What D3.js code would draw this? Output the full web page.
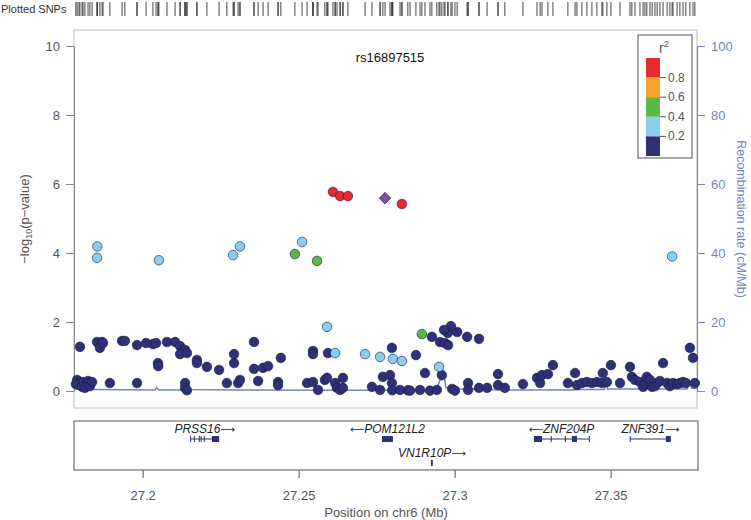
<!DOCTYPE html>
<html><head><meta charset="utf-8">
<script src="https://cdn.jsdelivr.net/npm/d3@7"></script>
<style>body{margin:0;background:#fff}svg text{font-family:"Liberation Sans",Arial,sans-serif}</style>
</head><body><svg id="c" width="751" height="520"></svg>
<script>
// ---------- DATA ----------
const indexSNP = "rs16897515";
// navy (r2 < 0.2)
const navyPos = [27.1790,27.1796,27.1786,27.1809,27.1825,27.1806,27.1815,27.1831,27.1838,27.1799,27.1854,27.1870,27.1863,27.1873,27.1895,27.1934,27.1943,27.1982,27.1982,27.2011,27.2033,27.2043,27.2049,27.2050,27.2078,27.2104,27.2120,27.2136,27.2120,27.2142,27.2136,27.2136,27.2142,27.2174,27.2174,27.2206,27.2245,27.2270,27.2293,27.2293,27.2306,27.2312,27.2357,27.2357,27.2370,27.2386,27.2402,27.2434,27.2434,27.2443,27.2527,27.2546,27.2546,27.2546,27.2562,27.2584,27.2591,27.2594,27.2617,27.2623,27.2633,27.2642,27.2642,27.2735,27.2761,27.2770,27.2793,27.2799,27.2799,27.2800,27.2825,27.2850,27.2927,27.2953,27.2969,27.2979,27.2978,27.3008,27.3040,27.3078,27.2988,27.2966,27.2876,27.2905,27.2959,27.2857,27.2889,27.2921,27.2943,27.2992,27.3001,27.3043,27.3043,27.3078,27.3104,27.3139,27.3139,27.3161,27.3219,27.3264,27.3274,27.3280,27.3299,27.3315,27.3363,27.3386,27.3392,27.3408,27.3424,27.3440,27.3456,27.3472,27.3488,27.3475,27.3501,27.3530,27.3562,27.3568,27.3578,27.3594,27.3604,27.3610,27.3616,27.3626,27.3633,27.3642,27.3649,27.3658,27.3668,27.3681,27.3690,27.3700,27.3713,27.3722,27.3732,27.3741,27.3754,27.3764,27.3770];
const navyLogP = [0.32,0.23,0.20,0.26,0.29,0.12,0.09,0.14,0.26,1.28,1.42,1.42,1.25,1.39,0.23,1.45,1.45,1.33,0.23,1.39,1.36,1.39,0.81,0.72,1.42,1.42,1.30,1.19,1.07,1.10,0.23,0.09,0.02,0.90,0.81,0.70,0.61,0.23,1.07,0.81,0.23,0.32,1.42,0.64,0.29,0.67,0.72,0.26,0.17,0.96,0.23,1.16,1.07,0.26,0.03,0.32,0.38,1.10,0.23,0.09,0.03,0.38,0.09,0.12,0.03,0.41,0.46,1.25,0.23,0.02,0.03,0.02,1.57,1.42,1.39,1.33,1.68,1.71,1.57,1.51,1.88,1.77,1.04,0.52,0.46,0.01,0.03,0.01,0.03,0.06,0.01,0.23,0.03,0.09,0.09,0.49,0.17,0.09,0.20,0.38,0.23,0.46,0.49,0.75,0.23,0.52,0.17,0.23,0.26,0.23,0.26,0.23,0.26,0.52,0.75,0.23,0.70,0.41,0.32,0.26,0.12,0.20,0.41,0.32,0.12,0.14,0.23,0.29,0.81,0.23,0.14,0.23,0.20,0.23,0.26,0.23,1.25,0.96,0.23];
// light blue (0.2 - 0.4)
const lblPos  = [27.1855,27.1854,27.2052,27.2290,27.2312,27.2511,27.3697,27.2591,27.2617,27.2713,27.2761,27.2802,27.2831,27.2950];
const lblLogP = [4.19,3.86,3.79,3.94,4.19,4.32,3.90,1.86,1.10,1.07,0.99,0.93,0.87,0.70];
// green (0.4 - 0.6)
const grnPos  = [27.2488,27.2559,27.2895];
const grnLogP = [3.97,3.77,1.65];
// red (>= 0.8)
const redPos  = [27.2610,27.2633,27.2658,27.2831];
const redLogP = [5.77,5.65,5.65,5.42];
// index SNP
const idxPos = 27.2777, idxLogP = 5.59;

// recombination rate (cM/Mb)
const recPos  = [27.178,27.185,27.2040,27.2045,27.2052,27.2130,27.2138,27.2145,27.23,27.26,27.28,27.294,27.2955,27.2965,27.2972,27.2985,27.31,27.315,27.3385,27.339,27.3395,27.348,27.3485,27.349,27.3745,27.3752,27.3760,27.378];
const recRate = [0.5,0.4,0.3,1.0,0.3,0.3,1.2,0.4,0.3,0.2,0.2,0.3,3.5,5.5,1.0,0.6,0.5,0.3,0.3,2.0,0.4,0.4,2.0,0.6,0.6,3.0,0.8,0.8];

// genes
const geneNames  = ["PRSS16","POM121L2","VN1R10P","ZNF204P","ZNF391"];
const geneStart  = [27.2152,27.2767,27.2924,27.3254,27.3562];
const geneEnd    = [27.2245,27.2802,27.2930,27.3431,27.3693];
const geneStrand = ["+","-","+","-","+"];
const geneRow    = [0,0,1,0,0];
const geneExons  = [
  [[27.2152,27.2155],[27.2164,27.2167],[27.2180,27.2183],[27.2186,27.2189],[27.2196,27.2199],[27.2222,27.2245]],
  [[27.2767,27.2802]],
  [[27.2924,27.2930]],
  [[27.3254,27.3280],[27.3308,27.3310],[27.3353,27.3355],[27.3376,27.3392],[27.3430,27.3432]],
  [[27.3561,27.3563],[27.3677,27.3693]]
];

const xTicks = [27.2,27.25,27.3,27.35];
const yTicks = [0,2,4,6,8,10];
const rTicks = [0,20,40,60,80,100];
const legendBreaks = [1.0,0.8,0.6,0.4,0.2,0.0];
const legendColors = ["#E8292F","#F6A42A","#58B947","#8ACDEE","#2E3175"];
const legendLabels = ["0.8","0.6","0.4","0.2"];

// ---------- DRAW ----------
const svg = d3.select("#c");
const L=74, R=697, T=30, B=408;
const x = d3.scaleLinear().domain([27.178,27.378]).range([L,698]);
const y = d3.scaleLinear().domain([0,10]).range([391,46]);
const yr = d3.scaleLinear().domain([0,100]).range([391,46]);
const navyC="#2E3175", lblC="#8ACDEE", grnC="#58B947", redC="#E8292F", purC="#7D4D9F";
const recC="#7584BF";

// rug
const allPos = navyPos.concat(lblPos,grnPos,redPos,[idxPos]);
svg.append("text").attr("x",1).attr("y",13).attr("font-size",11).attr("fill","#333").text("Plotted SNPs");
svg.append("g").selectAll("line").data(allPos).join("line")
  .attr("x1",d=>x(d)).attr("x2",d=>x(d)).attr("y1",2).attr("y2",16)
  .attr("stroke","#333").attr("stroke-width",0.9);

// frame
svg.append("rect").attr("x",L).attr("y",T).attr("width",R-L).attr("height",B-T)
  .attr("fill","none").attr("stroke","#bbb");

// recombination
const line = d3.line().x((d,i)=>x(recPos[i])).y(d=>yr(d));
svg.append("path").datum(recRate).attr("d",line).attr("fill","none").attr("stroke",recC).attr("stroke-width",1.5);

// left axis
const ga = svg.append("g").attr("transform",`translate(${L},0)`)
  .call(d3.axisLeft(y).tickValues(yTicks).tickSize(8).tickPadding(6).tickSizeOuter(0));
ga.select(".domain").attr("stroke","#888");
ga.selectAll(".tick line").attr("stroke","#888");
ga.selectAll("text").attr("font-size",13).attr("fill","#555").attr("font-family","Liberation Sans, Arial, sans-serif");
svg.append("text").attr("transform","translate(29,219) rotate(-90)").attr("text-anchor","middle")
  .attr("font-size",13).attr("fill","#555")
  .html('\u2212log<tspan font-size="9" dy="3">10</tspan><tspan dy="-3">(p\u2212value)</tspan>');

// right axis
const gr = svg.append("g").attr("transform",`translate(${R},0)`)
  .call(d3.axisRight(yr).tickValues(rTicks).tickSize(8).tickPadding(6).tickSizeOuter(0));
gr.select(".domain").attr("stroke",recC);
gr.selectAll(".tick line").attr("stroke",recC);
gr.selectAll("text").attr("font-size",13).attr("fill",recC).attr("font-family","Liberation Sans, Arial, sans-serif");
svg.append("text").attr("transform","translate(737,219) rotate(90)").attr("text-anchor","middle")
  .attr("font-size",12.5).attr("fill",recC).text("Recombination rate (cM/Mb)");

// points
function pts(pos, lp, col){
  svg.append("g").selectAll("circle").data(pos).join("circle")
    .attr("cx",d=>x(d)).attr("cy",(d,i)=>y(lp[i])).attr("r",4.8)
    .attr("fill",col).attr("stroke","#1a1a40").attr("stroke-width",0.6);
}
pts(navyPos,navyLogP,navyC);
pts(lblPos,lblLogP,lblC);
pts(grnPos,grnLogP,grnC);
pts(redPos,redLogP,redC);
svg.append("path").attr("d",d3.symbol().type(d3.symbolSquare).size(68)())
  .attr("transform",`translate(${x(idxPos)},${y(idxLogP)}) rotate(45)`)
  .attr("fill",purC).attr("stroke","#222").attr("stroke-width",0.6);

// title
svg.append("text").attr("x",390).attr("y",62).attr("text-anchor","middle").attr("font-size",13).attr("fill","#111").text(indexSNP);

// legend
const lg = svg.append("g");
lg.append("rect").attr("x",638).attr("y",35).attr("width",54).attr("height",123).attr("fill","#fff").attr("stroke","#555");
const ly = d3.scaleLinear().domain([1,0]).range([58,156]);
lg.selectAll("rect.c").data(legendColors).join("rect").attr("class","c")
  .attr("x",646).attr("width",14).attr("y",(d,i)=>ly(legendBreaks[i])).attr("height",(d,i)=>ly(legendBreaks[i+1])-ly(legendBreaks[i]))
  .attr("fill",d=>d);
lg.selectAll("line").data(legendLabels).join("line")
  .attr("x1",660).attr("x2",666).attr("y1",(d,i)=>ly(legendBreaks[i+1])).attr("y2",(d,i)=>ly(legendBreaks[i+1])).attr("stroke","#555");
lg.selectAll("text.l").data(legendLabels).join("text").attr("class","l")
  .attr("x",668).attr("y",(d,i)=>ly(legendBreaks[i+1])+4).attr("font-size",12).attr("fill","#555").text(d=>d);
lg.append("text").attr("x",659).attr("y",53).attr("font-size",14).attr("fill","#555")
  .html('r<tspan font-size="9" dy="-6">2</tspan>');

// gene track
const GT=421, GB=470;
svg.append("rect").attr("x",L).attr("y",GT).attr("width",698-L).attr("height",GB-GT).attr("fill","none").attr("stroke","#555");
const rowY = [439,463];
const gg = svg.append("g");
geneNames.forEach((n,i)=>{
  const yy=rowY[geneRow[i]];
  gg.append("line").attr("x1",x(geneStart[i])).attr("x2",x(geneEnd[i])).attr("y1",yy).attr("y2",yy).attr("stroke",navyC).attr("stroke-width",1);
  geneExons[i].forEach(e=>{
    gg.append("rect").attr("x",x(e[0])).attr("width",Math.max(1,x(e[1])-x(e[0]))).attr("y",yy-3).attr("height",6).attr("fill",navyC);
  });
  const t = gg.append("text").attr("x",x((geneStart[i]+geneEnd[i])/2)).attr("y",yy-6).attr("text-anchor","middle")
    .attr("font-size",12).attr("font-style","italic").attr("fill","#222");
  const arrow = (s)=>t.append("tspan").attr("font-family","DejaVu Sans").attr("font-style","normal").attr("font-size",10).text(s);
  if(geneStrand[i]==="+"){ t.append("tspan").text(n); arrow("\u27F6"); }
  else { arrow("\u27F5"); t.append("tspan").text(n); }
});

// x axis
const gx = svg.append("g").attr("transform",`translate(0,${GB})`)
  .call(d3.axisBottom(x).tickValues(xTicks).tickFormat(d3.format("")).tickSize(8).tickPadding(13));
gx.select(".domain").remove();
gx.selectAll(".tick line").attr("stroke","#555");
gx.selectAll("text").attr("font-size",13).attr("fill","#555").attr("font-family","Liberation Sans, Arial, sans-serif");
svg.append("text").attr("x",386).attr("y",517).attr("text-anchor","middle").attr("font-size",13).attr("fill","#555").text("Position on chr6 (Mb)");
</script></body></html>
